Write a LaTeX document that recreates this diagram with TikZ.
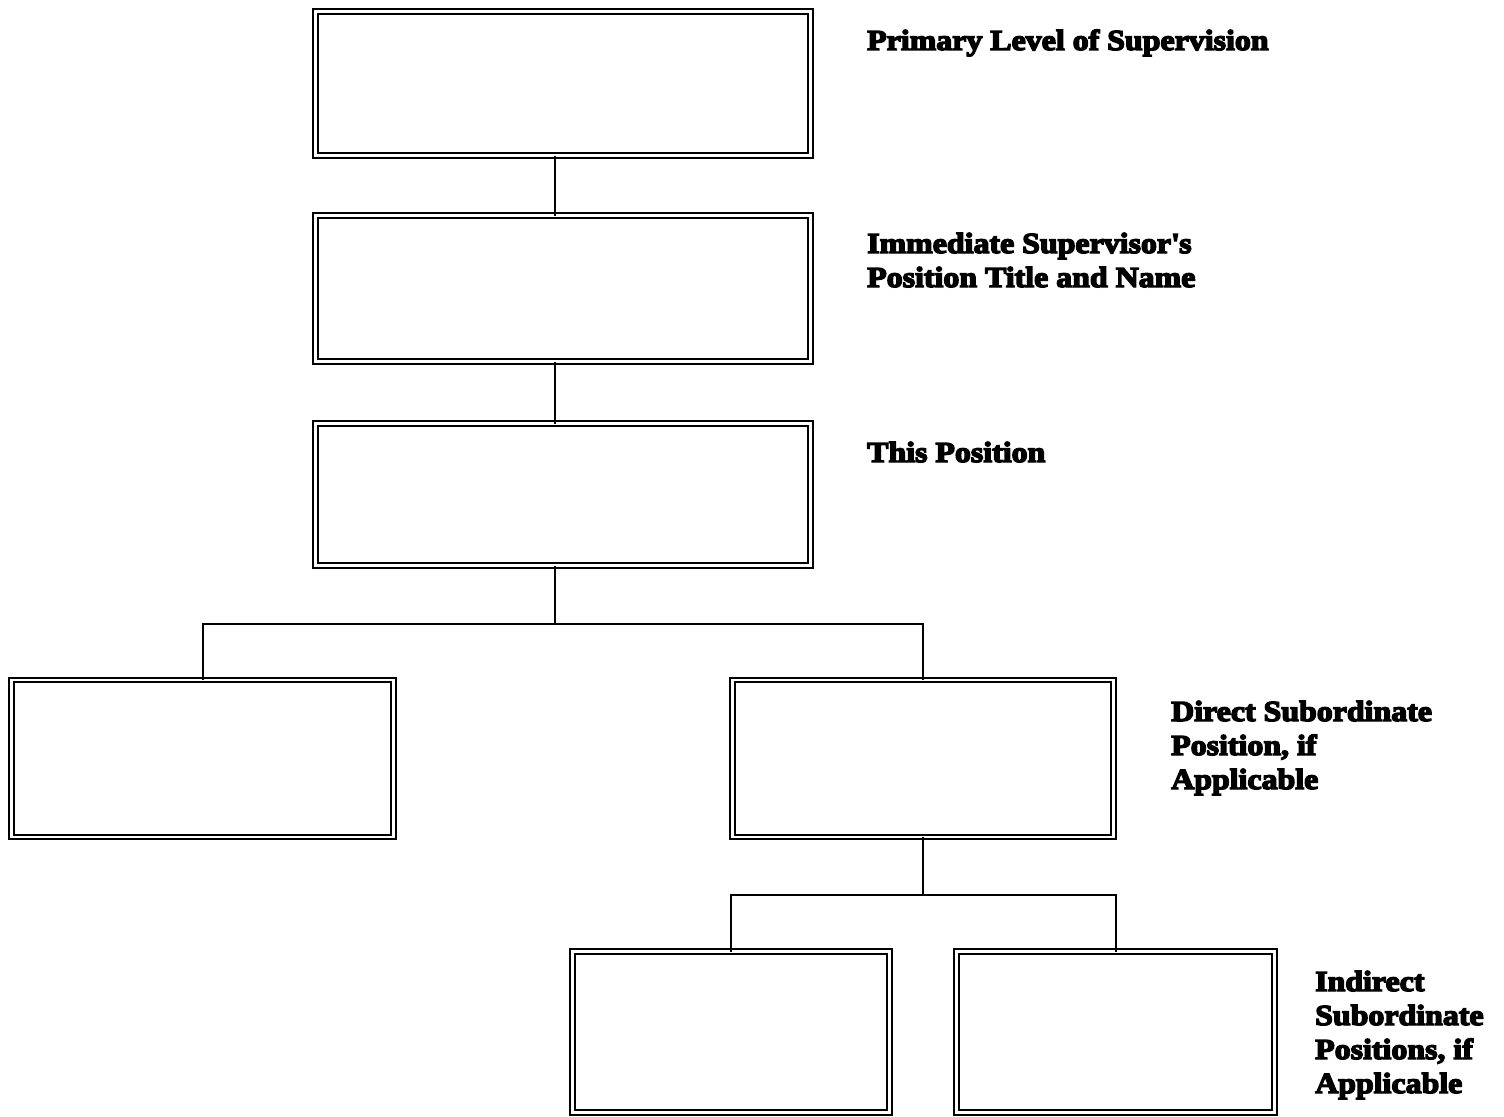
\documentclass[tikz,border=0pt]{standalone}
\usepackage{fontspec}
\setmainfont{Liberation Serif}[BoldFeatures={FakeBold=5,FakeStretch=1.1}]
\usepackage{tikz}
\usetikzlibrary{calc}

\tikzset{
  posbox/.style={draw, double, line width=2pt, double distance=2.6pt,
    rectangle, inner sep=0pt, outer sep=0pt},
  poslabel/.style={anchor=base west, align=left, inner sep=0pt,
    font=\fontsize{29}{34}\selectfont\bfseries},
  link/.style={line width=2pt}
}

\begin{document}
\begin{tikzpicture}[x=1pt, y=-1pt]
  \useasboundingbox (0,0) rectangle (1504,1116);
  % Position boxes
  \node[posbox, minimum width=495pt, minimum height=144pt] (primary) at (563,83.5) {};
  \node[posbox, minimum width=495pt, minimum height=146pt] (immsup) at (563,288.5) {};
  \node[posbox, minimum width=495pt, minimum height=142pt] (thispos) at (563,494.5) {};
  \node[posbox, minimum width=382pt, minimum height=157pt] (subleft) at (202.5,758.5) {};
  \node[posbox, minimum width=381pt, minimum height=157pt] (subright) at (923,758.5) {};
  \node[posbox, minimum width=317pt, minimum height=161pt] (indleft) at (731,1032) {};
  \node[posbox, minimum width=318pt, minimum height=161pt] (indright) at (1115.5,1032) {};
  % Connectors
  \coordinate (trunk) at (555,0);
  \coordinate (splitone) at (555,624);
  \coordinate (splittwo) at (923,895);
  \draw[link] (primary.south -| trunk) -- (immsup.north -| trunk);
  \draw[link] (immsup.south -| trunk) -- (thispos.north -| trunk);
  \draw[link] (thispos.south -| trunk) -- (splitone);
  \draw[link] (subleft.north) |- (splitone) -| (subright.north);
  \draw[link] (subright.south) -- (splittwo);
  \draw[link] (indleft.north) |- (splittwo) -| (indright.north);
  % Labels (anchored on the last line)
  \node[poslabel] (lblprimary) at (867,50) {Primary Level of Supervision};
  \node[poslabel] (lblimmsup) at (867,287) {Immediate Supervisor\textquotesingle s\\Position Title and Name};
  \node[poslabel] (lblthis) at (867,462) {This Position};
  \node[poslabel] (lbldirect) at (1171,789) {Direct Subordinate\\Position, if\\Applicable};
  \node[poslabel] (lblindirect) at (1315,1093) {Indirect\\Subordinate\\Positions, if\\Applicable};
\end{tikzpicture}
\end{document}
